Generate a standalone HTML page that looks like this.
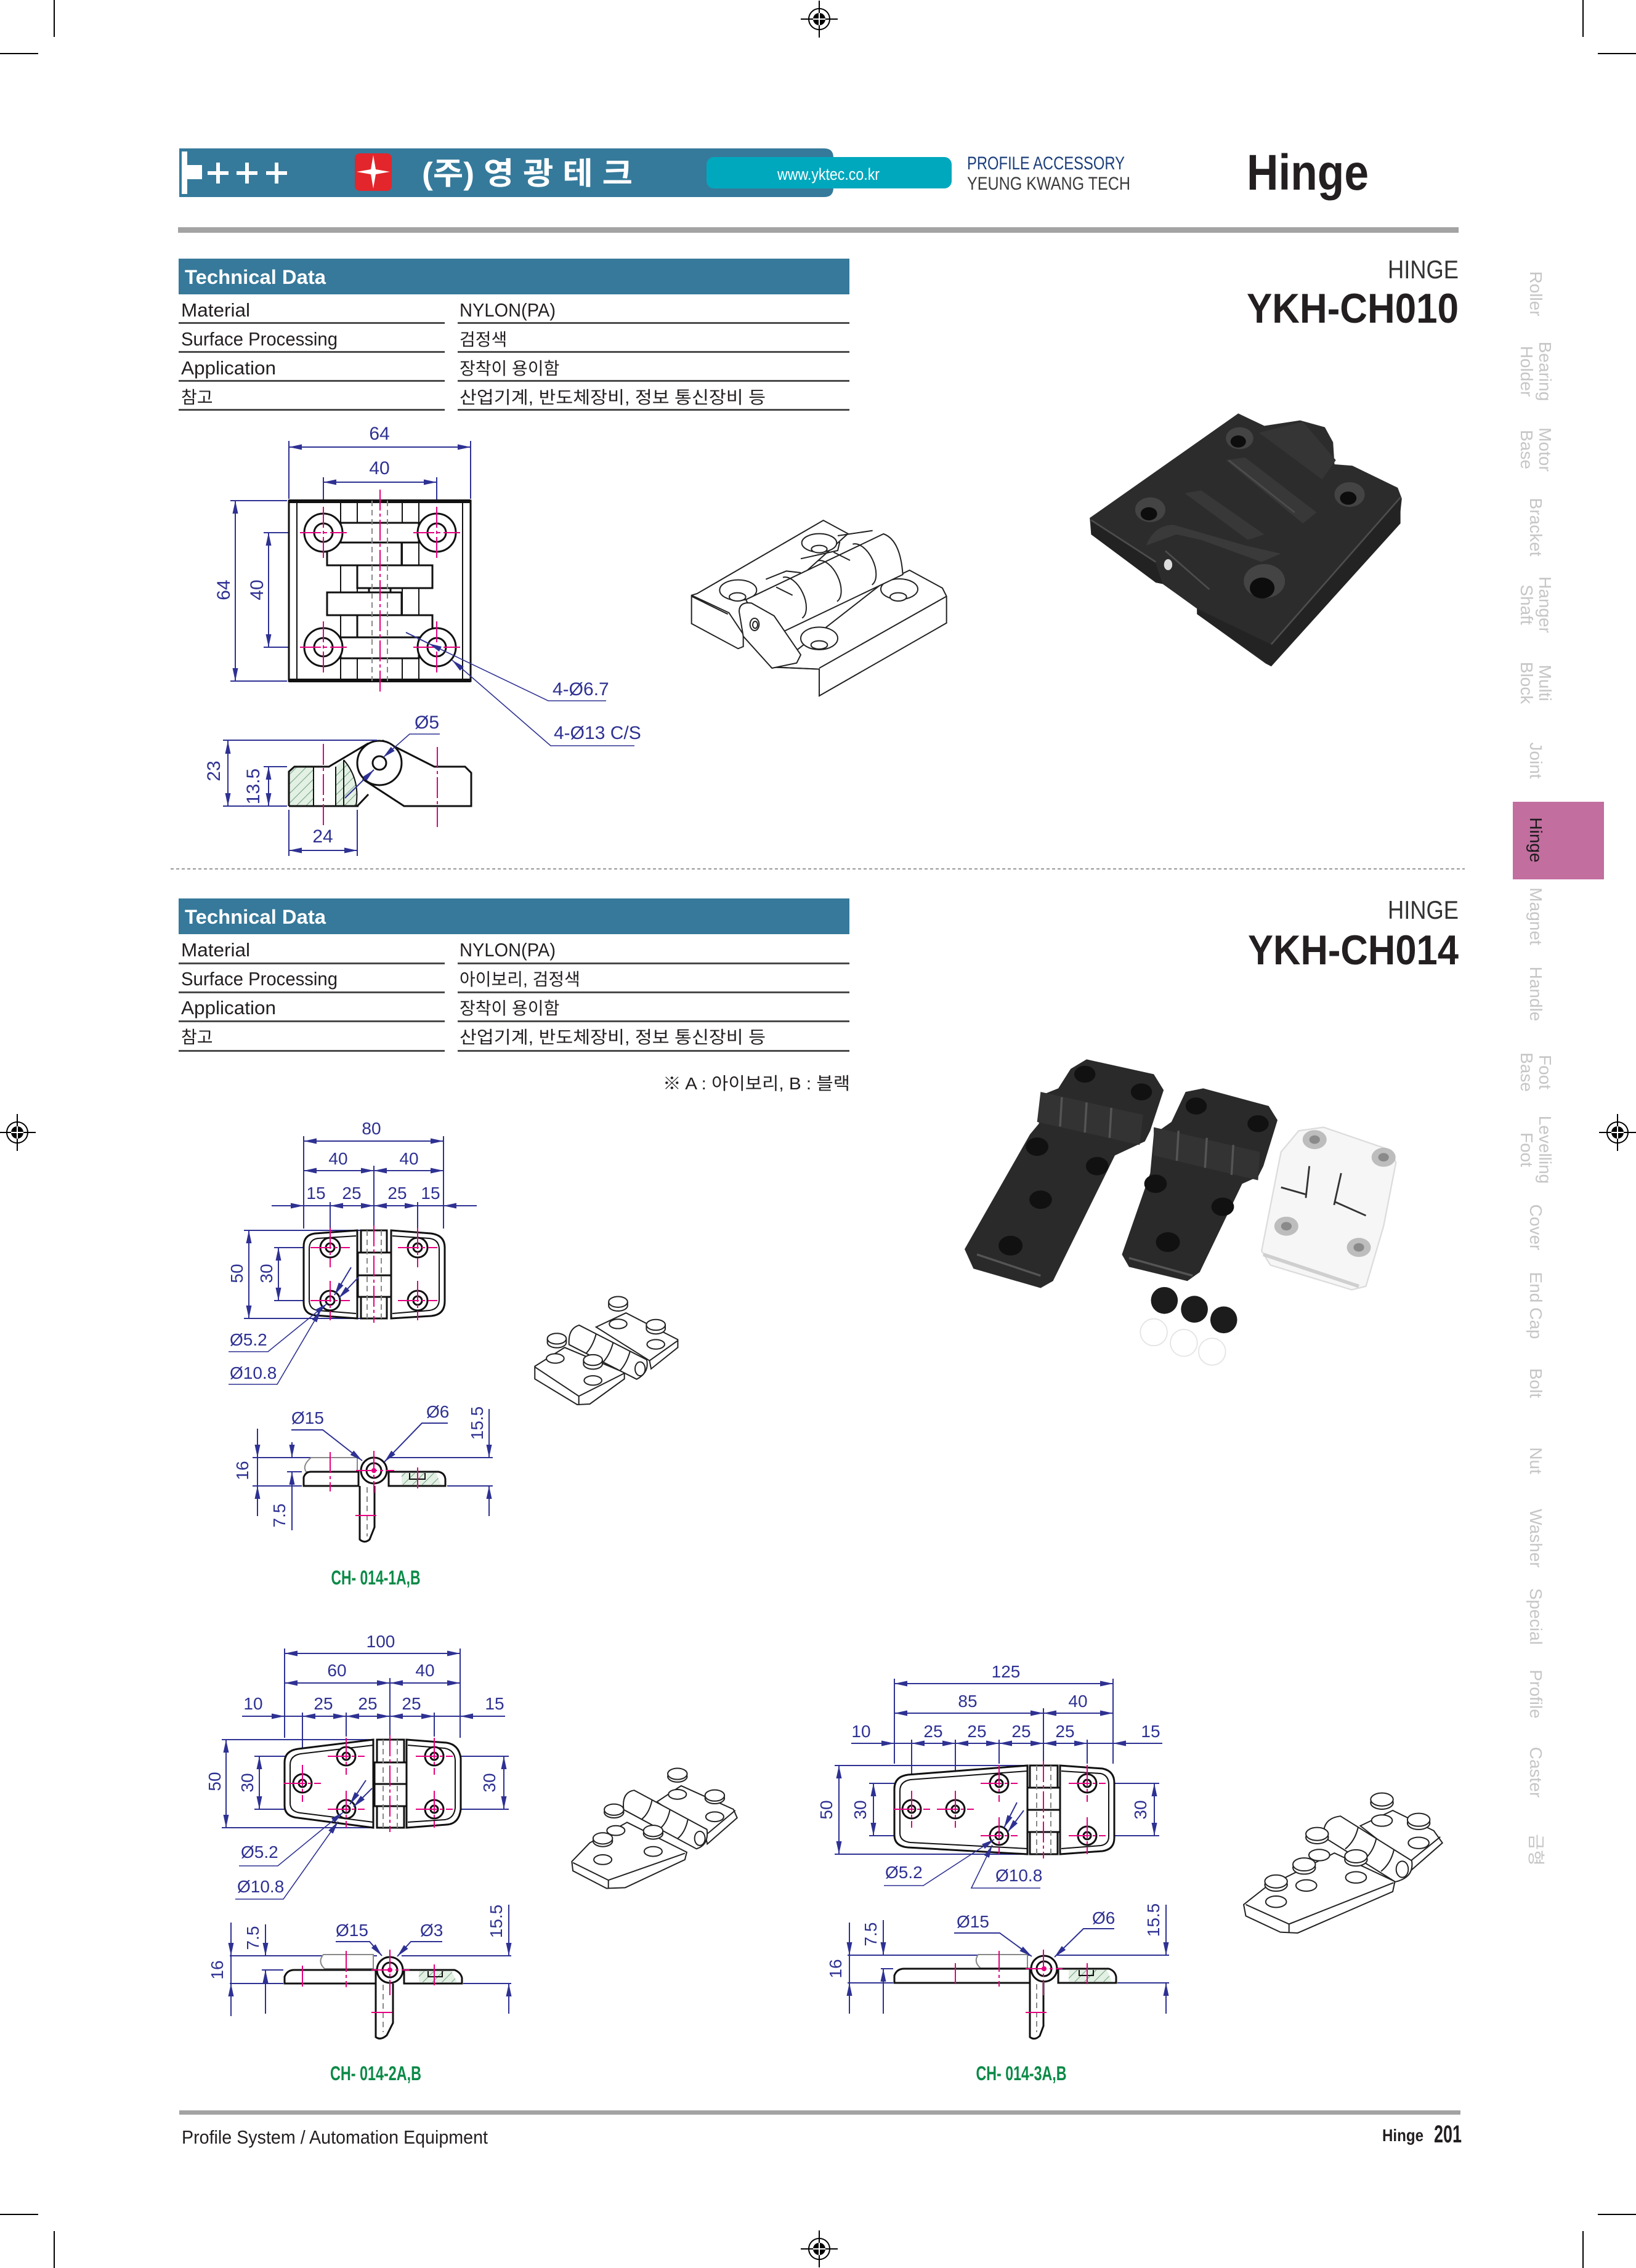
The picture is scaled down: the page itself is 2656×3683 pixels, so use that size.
<!DOCTYPE html>
<html><head><meta charset="utf-8"><title>Hinge</title>
<style>
html,body{margin:0;padding:0;background:#fff;width:2656px;height:3683px;overflow:hidden}
svg{display:block}
</style></head><body>
<svg xmlns="http://www.w3.org/2000/svg" width="2656" height="3683" viewBox="0 0 2656 3683">
<style>
text{font-family:"Liberation Sans","Noto Sans CJK KR",sans-serif}
.d{stroke:#2e3192;stroke-width:2;fill:none}
.de{stroke:#2e3192;stroke-width:2;fill:none;marker-end:url(#a)}
.db{stroke:#2e3192;stroke-width:2;fill:none;marker-start:url(#a);marker-end:url(#a)}
.ds{stroke:#2e3192;stroke-width:1.6;fill:none;marker-start:url(#a)}
.o{stroke:#111;stroke-width:3;fill:#fff}
.on{stroke:#111;stroke-width:3;fill:none}
.o2{stroke:#111;stroke-width:2;fill:none}
.g{stroke:#888;stroke-width:2;fill:#fff}
.hd{stroke:#888;stroke-width:2;fill:none;stroke-dasharray:9 6}
.c{stroke:#e4007f;stroke-width:2;fill:none;stroke-dasharray:34 5 5 5}
.t{fill:#2e3192;font-size:28px}
.t3{fill:#2e3192;font-size:30px}
.tab{fill:#c6c6c6;font-size:28px}
.iso{stroke:#222;stroke-width:2;fill:#fff;vector-effect:non-scaling-stroke}
.isn{stroke:#222;stroke-width:2;fill:none;vector-effect:non-scaling-stroke}
.lbl{fill:#0a8a47;font-size:32px;font-weight:bold}
.tx{fill:#231f20;font-size:31px}
.tk{fill:#231f20;font-size:28px}
</style>
<defs>
<marker id="a" markerUnits="userSpaceOnUse" markerWidth="22" markerHeight="10" refX="21" refY="5" orient="auto-start-reverse"><path d="M0,0.5 L21,5 L0,9.5 Z" fill="#2e3192"/></marker>
<pattern id="ht" patternUnits="userSpaceOnUse" width="11" height="11" patternTransform="rotate(45)"><rect width="11" height="11" fill="#e3f0e4"/><line x1="0" y1="0" x2="0" y2="11" stroke="#6f9f7a" stroke-width="2"/></pattern>
<g id="reg"><circle r="17" fill="none" stroke="#000" stroke-width="2"/><circle r="10" fill="#000"/><line x1="-30" y1="0" x2="30" y2="0" stroke="#000" stroke-width="2"/><line x1="0" y1="-30" x2="0" y2="30" stroke="#000" stroke-width="2"/><line x1="-10" y1="0" x2="10" y2="0" stroke="#fff" stroke-width="2"/><line x1="0" y1="-10" x2="0" y2="10" stroke="#fff" stroke-width="2"/></g>
</defs>

<!-- crop marks -->
<g stroke="#000" stroke-width="2">
<line x1="88" y1="0" x2="88" y2="60"/><line x1="0" y1="87" x2="62" y2="87"/>
<line x1="2570" y1="0" x2="2570" y2="60"/><line x1="2594" y1="87" x2="2656" y2="87"/>
<line x1="88" y1="3623" x2="88" y2="3683"/><line x1="0" y1="3596" x2="62" y2="3596"/>
<line x1="2570" y1="3623" x2="2570" y2="3683"/><line x1="2594" y1="3596" x2="2656" y2="3596"/>
</g>
<use href="#reg" x="1330" y="31"/>
<use href="#reg" x="1330" y="3652"/>
<use href="#reg" x="28" y="1839"/>
<use href="#reg" x="2626" y="1839"/>

<!-- header -->
<path d="M291,241 H1338 Q1353,241 1353,256 V305 Q1353,320 1338,320 H291 Z" fill="#357a9b"/>
<rect x="295" y="246" width="9" height="69" fill="#fff"/>
<rect x="304" y="268" width="24" height="23" fill="#fff"/>
<g stroke="#fff" stroke-width="6">
<line x1="337" y1="281" x2="371" y2="281"/><line x1="354" y1="264" x2="354" y2="298"/>
<line x1="384" y1="281" x2="418" y2="281"/><line x1="401" y1="264" x2="401" y2="298"/>
<line x1="432" y1="281" x2="466" y2="281"/><line x1="449" y1="264" x2="449" y2="298"/>
</g>
<rect x="576" y="249" width="60" height="61" rx="8" fill="#e3262b"/>
<path d="M606,252 L610,275 L633,279 L610,283 L606,306 L602,283 L579,279 L602,275 Z" fill="#fff"/>
<text x="685" y="299" font-size="50" font-weight="bold" fill="#fff" textLength="342" lengthAdjust="spacingAndGlyphs">(주) 영 광 테 크</text>
<rect x="1147" y="255" width="398" height="51" rx="12" fill="#00a8bd"/>
<text x="1262" y="292" font-size="27" fill="#fff" textLength="166" lengthAdjust="spacingAndGlyphs">www.yktec.co.kr</text>
<text x="1570" y="275" font-size="30" fill="#1c3f7c" textLength="256" lengthAdjust="spacingAndGlyphs">PROFILE ACCESSORY</text>
<text x="1570" y="308" font-size="30" fill="#3a3a3a" textLength="265" lengthAdjust="spacingAndGlyphs">YEUNG KWANG TECH</text>
<text x="2024" y="308" font-size="82" font-weight="bold" fill="#231f20" textLength="198" lengthAdjust="spacingAndGlyphs">Hinge</text>
<rect x="289" y="369" width="2079" height="9" fill="#a3a3a3"/>

<!-- right tabs -->
<rect x="2456" y="1302" width="148" height="126" fill="#c26e9f"/>
<g class="tab" text-anchor="middle">
<text transform="translate(2484,477) rotate(90)">Roller</text>
<text transform="translate(2499,603) rotate(90)">Bearing</text><text transform="translate(2469,603) rotate(90)">Holder</text>
<text transform="translate(2499,730) rotate(90)">Motor</text><text transform="translate(2469,730) rotate(90)">Base</text>
<text transform="translate(2484,856) rotate(90)">Bracket</text>
<text transform="translate(2499,982) rotate(90)">Hanger</text><text transform="translate(2469,982) rotate(90)">Shaft</text>
<text transform="translate(2499,1109) rotate(90)">Multi</text><text transform="translate(2469,1109) rotate(90)">Block</text>
<text transform="translate(2484,1235) rotate(90)">Joint</text>
<text transform="translate(2484,1364) rotate(90)" style="fill:#1a1a1a">Hinge</text>
<text transform="translate(2484,1488) rotate(90)">Magnet</text>
<text transform="translate(2484,1614) rotate(90)">Handle</text>
<text transform="translate(2499,1741) rotate(90)">Foot</text><text transform="translate(2469,1741) rotate(90)">Base</text>
<text transform="translate(2499,1867) rotate(90)">Levelling</text><text transform="translate(2469,1867) rotate(90)">Foot</text>
<text transform="translate(2484,1993) rotate(90)">Cover</text>
<text transform="translate(2484,2120) rotate(90)">End Cap</text>
<text transform="translate(2484,2246) rotate(90)">Bolt</text>
<text transform="translate(2484,2372) rotate(90)">Nut</text>
<text transform="translate(2484,2498) rotate(90)">Washer</text>
<text transform="translate(2484,2625) rotate(90)">Special</text>
<text transform="translate(2484,2751) rotate(90)">Profile</text>
<text transform="translate(2484,2878) rotate(90)">Caster</text>
<text transform="translate(2484,3004) rotate(90)">금형</text>
</g>

<!-- TABLE 1 -->
<rect x="290" y="420" width="1089" height="58" fill="#36799a"/>
<text x="300" y="461" font-size="32" font-weight="bold" fill="#fff" textLength="229" lengthAdjust="spacingAndGlyphs">Technical Data</text>
<g fill="#4a4a4a">
<rect x="290" y="523" width="432" height="3"/><rect x="743" y="523" width="636" height="3"/>
<rect x="290" y="570" width="432" height="3"/><rect x="743" y="570" width="636" height="3"/>
<rect x="290" y="617" width="432" height="3"/><rect x="743" y="617" width="636" height="3"/>
<rect x="290" y="664" width="432" height="3"/><rect x="743" y="664" width="636" height="3"/>
</g>
<text class="tx" x="294" y="514" textLength="112" lengthAdjust="spacingAndGlyphs">Material</text>
<text class="tx" x="294" y="561" textLength="254" lengthAdjust="spacingAndGlyphs">Surface Processing</text>
<text class="tx" x="294" y="608" textLength="154" lengthAdjust="spacingAndGlyphs">Application</text>
<text class="tk" x="294" y="655">참고</text>
<text class="tx" x="746" y="514" textLength="156" lengthAdjust="spacingAndGlyphs">NYLON(PA)</text>
<text class="tk" x="746" y="561">검정색</text>
<text class="tk" x="746" y="608">장착이 용이함</text>
<text class="tk" x="746" y="655" textLength="497" lengthAdjust="spacingAndGlyphs">산업기계, 반도체장비, 정보 통신장비 등</text>
<text x="2368" y="452" font-size="42" text-anchor="end" fill="#333" textLength="115" lengthAdjust="spacingAndGlyphs">HINGE</text>
<text x="2368" y="524" font-size="68" font-weight="bold" text-anchor="end" fill="#231f20" textLength="344" lengthAdjust="spacingAndGlyphs">YKH-CH010</text>

<!-- DRAWING 1 main view -->
<line class="db" x1="469" y1="726" x2="764" y2="726"/>
<line class="d" x1="469" y1="716" x2="469" y2="810"/><line class="d" x1="764" y1="716" x2="764" y2="810"/>
<text class="t3" x="616" y="714" text-anchor="middle">64</text>
<line class="db" x1="525" y1="783" x2="709" y2="783"/>
<line class="d" x1="525" y1="775" x2="525" y2="812"/><line class="d" x1="709" y1="775" x2="709" y2="812"/>
<text class="t3" x="616" y="770" text-anchor="middle">40</text>
<line class="db" x1="382" y1="813" x2="382" y2="1106"/>
<line class="d" x1="374" y1="813" x2="466" y2="813"/><line class="d" x1="374" y1="1106" x2="466" y2="1106"/>
<text class="t3" text-anchor="middle" transform="translate(373,958) rotate(-90)">64</text>
<line class="db" x1="436" y1="865" x2="436" y2="1051"/>
<line class="d" x1="428" y1="865" x2="505" y2="865"/><line class="d" x1="428" y1="1051" x2="505" y2="1051"/>
<text class="t3" text-anchor="middle" transform="translate(427,958) rotate(-90)">40</text>

<rect class="o" x="469" y="813" width="295" height="293"/>
<line x1="469" y1="814" x2="764" y2="814" stroke="#111" stroke-width="6"/>
<line x1="469" y1="1105" x2="764" y2="1105" stroke="#111" stroke-width="6"/>
<line class="o2" x1="482" y1="813" x2="482" y2="1106"/><line class="o2" x1="751" y1="813" x2="751" y2="1106"/>
<g class="o2"><line x1="553" y1="813" x2="553" y2="1106"/><line x1="580" y1="813" x2="580" y2="1106"/><line x1="653" y1="813" x2="653" y2="1106"/><line x1="680" y1="813" x2="680" y2="1106"/></g>
<rect class="o" x="553" y="849" width="127" height="32"/>
<rect class="o" x="531" y="881" width="121" height="37"/>
<rect class="o" x="580" y="918" width="122" height="37"/>
<rect class="o" x="599" y="955" width="35" height="7"/>
<rect class="o" x="531" y="962" width="121" height="37"/>
<rect class="o" x="580" y="999" width="122" height="36"/>
<rect class="o" x="553" y="1035" width="127" height="34"/>
<line class="hd" x1="604" y1="813" x2="604" y2="1106"/><line class="hd" x1="629" y1="813" x2="629" y2="1106"/>
<g>
<circle class="o" cx="525" cy="865" r="31"/><circle class="o" cx="525" cy="865" r="15"/>
<circle class="o" cx="709" cy="865" r="31"/><circle class="o" cx="709" cy="865" r="15"/>
<circle class="o" cx="525" cy="1051" r="31"/><circle class="o" cx="525" cy="1051" r="15"/>
<circle class="o" cx="709" cy="1051" r="31"/><circle class="o" cx="709" cy="1051" r="15"/>
</g>
<g class="c">
<line x1="617" y1="795" x2="617" y2="1125"/>
<line x1="487" y1="865" x2="563" y2="865"/><line x1="525" y1="823" x2="525" y2="907"/>
<line x1="671" y1="865" x2="747" y2="865"/><line x1="709" y1="823" x2="709" y2="907"/>
<line x1="487" y1="1051" x2="563" y2="1051"/><line x1="525" y1="1009" x2="525" y2="1093"/>
<line x1="671" y1="1051" x2="747" y2="1051"/><line x1="709" y1="1009" x2="709" y2="1093"/>
</g>
<polyline class="ds" points="696,1045 890,1138 984,1138"/>
<line class="d" x1="659" y1="1027" x2="696" y2="1045"/>
<polyline class="ds" points="734,1072 894,1211 1030,1211"/>
<text class="t3" x="897" y="1129">4-Ø6.7</text>
<text class="t3" x="899" y="1200">4-Ø13 C/S</text>

<!-- DRAWING 1 side view -->
<path d="M469,1309 V1253 L478,1245 H509 V1309 Z" fill="url(#ht)"/>
<path d="M545,1245 L558,1234 Q585,1265 578,1309 L545,1309 Z" fill="url(#ht)"/>
<path class="on" d="M469,1309 V1253 L478,1245 H534 L598,1207"/>
<line class="on" x1="469" y1="1309" x2="582" y2="1309"/>
<line class="o2" x1="509" y1="1245" x2="509" y2="1309"/><line class="o2" x1="545" y1="1245" x2="545" y2="1309"/>
<line class="o2" x1="558" y1="1234" x2="558" y2="1309"/>
<path class="o2" d="M558,1234 Q585,1265 578,1309"/>
<path class="o" d="M622,1203 L705,1245 H755 L765,1255 V1309 H656 L590,1266 Z"/>
<circle class="o" cx="616" cy="1239" r="36"/>
<circle class="o" cx="616" cy="1239" r="11"/>
<line class="on" x1="580" y1="1309" x2="598" y2="1290"/>
<g class="c"><line x1="525" y1="1208" x2="525" y2="1343"/><line x1="710" y1="1213" x2="710" y2="1343"/></g>
<polyline class="ds" points="622,1230 665,1192 714,1192"/>
<line class="de" x1="560" y1="1296" x2="607" y2="1250"/>
<text class="t3" x="673" y="1183">Ø5</text>
<line class="db" x1="370" y1="1203" x2="370" y2="1309"/>
<line class="d" x1="362" y1="1202" x2="612" y2="1202"/>
<line class="d" x1="362" y1="1309" x2="466" y2="1309"/>
<text class="t3" text-anchor="middle" transform="translate(357,1252) rotate(-90)">23</text>
<line class="db" x1="436" y1="1245" x2="436" y2="1309"/>
<line class="d" x1="428" y1="1245" x2="466" y2="1245"/>
<text class="t3" text-anchor="middle" transform="translate(421,1277) rotate(-90)">13.5</text>
<line class="db" x1="469" y1="1381" x2="580" y2="1381"/>
<line class="d" x1="469" y1="1315" x2="469" y2="1390"/><line class="d" x1="580" y1="1315" x2="580" y2="1390"/>
<text class="t3" x="524" y="1368" text-anchor="middle">24</text>

<!-- ISO 1 -->
<g transform="translate(1100,820) scale(0.33333)">
<path class="iso" d="M68,440 L95,432 L710,75 L830,140 L430,500 L320,630 L320,690 L295,700 L68,578 Z"/>
<path class="isn" d="M68,440 L250,525 L320,630 M68,445 L245,532"/>
<path class="iso" d="M460,790 L590,700 L1000,380 L1130,318 L1290,405 L1310,445 L1310,575 L690,930 L690,800 Z"/>
<path class="isn" d="M690,795 L1310,445 M690,800 L460,790"/>
<ellipse class="iso" cx="295" cy="415" rx="90" ry="50"/><ellipse class="iso" cx="292" cy="448" rx="40" ry="20"/>
<ellipse class="iso" cx="690" cy="185" rx="85" ry="45"/><ellipse class="iso" cx="690" cy="215" rx="38" ry="18"/>
<ellipse class="iso" cx="1080" cy="410" rx="90" ry="50"/><ellipse class="iso" cx="1075" cy="448" rx="40" ry="20"/>
<ellipse class="iso" cx="690" cy="650" rx="90" ry="55"/><ellipse class="iso" cx="690" cy="682" rx="40" ry="20"/>
<path class="iso" d="M333,461 L1003,141 Q1085,170 1097,339 L427,659 Z"/>
<path class="isn" d="M513,353 A60 110 -25 0 1 607,551 M683,272 A60 110 -25 0 1 777,470 M853,191 A60 110 -25 0 1 947,389"/>
<path class="isn" d="M430,362 L530,322 L600,330 M600,262 L780,222 L790,180 M780,150 L950,125 M480,400 L560,440 M760,230 L840,270"/>
<path class="iso" d="M300,520 Q300,470 360,478 L470,540 L600,730 L580,770 L460,795 L320,640 Z"/>
<ellipse class="iso" cx="375" cy="582" rx="22" ry="30"/><ellipse class="iso" cx="378" cy="584" rx="12" ry="17"/>
</g>

<!-- PHOTO 1 -->
<g transform="translate(1700,600) scale(0.4464)">
<polygon points="155,540 695,160 790,205 920,185 1010,210 1040,265 1045,345 1110,350 1275,430 1290,470 1280,560 815,1080 795,1070 545,890 545,870 420,780 395,775 160,600" fill="#2c2c2c"/>
<polygon points="160,545 395,705 420,780 395,775 160,600" fill="#222"/>
<polygon points="545,870 815,1000 1285,465 1285,560 815,1080 545,890" fill="#232323"/>
<path d="M360,640 Q390,565 460,565 L720,640 L850,670 L780,700 L560,620 L470,600 Z" fill="#3a3a3a"/>
<path d="M500,450 L560,440 L790,600 L730,620 Z" fill="#383838"/>
<path d="M650,330 L720,320 L980,520 L930,560 Z" fill="#383838"/>
<path d="M770,230 L930,190 L1050,330 L1000,400 Z" fill="#353535"/>
<path d="M430,660 L590,800 M160,548 L395,700 M815,1000 L1285,465 M660,330 L900,520" stroke="#4d4d4d" stroke-width="6" fill="none"/>
<ellipse cx="375" cy="510" rx="55" ry="45" fill="#444"/><ellipse cx="370" cy="525" rx="30" ry="24" fill="#0d0d0d"/>
<ellipse cx="700" cy="250" rx="50" ry="40" fill="#444"/><ellipse cx="695" cy="262" rx="28" ry="22" fill="#0d0d0d"/>
<ellipse cx="1100" cy="455" rx="55" ry="45" fill="#444"/><ellipse cx="1095" cy="468" rx="30" ry="24" fill="#0d0d0d"/>
<ellipse cx="790" cy="770" rx="75" ry="62" fill="#444"/><ellipse cx="782" cy="795" rx="45" ry="38" fill="#0d0d0d"/>
<ellipse cx="440" cy="710" rx="15" ry="20" fill="#ddd"/>
</g>

<!-- separator -->
<line x1="277" y1="1411" x2="2378" y2="1411" stroke="#9a9a9a" stroke-width="2" stroke-dasharray="5 4"/>

<!-- TABLE 2 -->
<rect x="290" y="1459" width="1089" height="58" fill="#36799a"/>
<text x="300" y="1500" font-size="32" font-weight="bold" fill="#fff" textLength="229" lengthAdjust="spacingAndGlyphs">Technical Data</text>
<g fill="#4a4a4a">
<rect x="290" y="1563" width="432" height="3"/><rect x="743" y="1563" width="636" height="3"/>
<rect x="290" y="1610" width="432" height="3"/><rect x="743" y="1610" width="636" height="3"/>
<rect x="290" y="1657" width="432" height="3"/><rect x="743" y="1657" width="636" height="3"/>
<rect x="290" y="1705" width="432" height="3"/><rect x="743" y="1705" width="636" height="3"/>
</g>
<text class="tx" x="294" y="1553" textLength="112" lengthAdjust="spacingAndGlyphs">Material</text>
<text class="tx" x="294" y="1600" textLength="254" lengthAdjust="spacingAndGlyphs">Surface Processing</text>
<text class="tx" x="294" y="1647" textLength="154" lengthAdjust="spacingAndGlyphs">Application</text>
<text class="tk" x="294" y="1694">참고</text>
<text class="tx" x="746" y="1553" textLength="156" lengthAdjust="spacingAndGlyphs">NYLON(PA)</text>
<text class="tk" x="746" y="1600">아이보리, 검정색</text>
<text class="tk" x="746" y="1647">장착이 용이함</text>
<text class="tk" x="746" y="1694" textLength="497" lengthAdjust="spacingAndGlyphs">산업기계, 반도체장비, 정보 통신장비 등</text>
<text class="tk" x="1380" y="1769" text-anchor="end" textLength="304" lengthAdjust="spacingAndGlyphs">※ A : 아이보리, B : 블랙</text>
<text x="2368" y="1492" font-size="42" text-anchor="end" fill="#333" textLength="115" lengthAdjust="spacingAndGlyphs">HINGE</text>
<text x="2368" y="1566" font-size="68" font-weight="bold" text-anchor="end" fill="#231f20" textLength="342" lengthAdjust="spacingAndGlyphs">YKH-CH014</text>

<!-- PHOTO 2 -->
<g transform="translate(1500,1400) scale(0.574)">
<polygon points="415,585 460,558 650,600 678,645 640,760 625,790 540,830 365,1185 330,1205 140,1150 115,1095 300,770 325,740 330,660 380,640" fill="#2a2a2a"/>
<polygon points="330,650 620,715 610,800 320,735" fill="#333"/>
<path d="M390,665 L385,748 M460,680 L455,765 M530,695 L525,780 M150,1110 L330,1170" stroke="#555" stroke-width="6" fill="none"/>
<g fill="#111"><ellipse cx="455" cy="600" rx="30" ry="24"/><ellipse cx="615" cy="650" rx="30" ry="24"/><ellipse cx="320" cy="805" rx="32" ry="26"/><ellipse cx="490" cy="860" rx="32" ry="26"/><ellipse cx="330" cy="955" rx="32" ry="26"/><ellipse cx="245" cy="1085" rx="34" ry="28"/></g>
<polygon points="740,650 790,640 975,690 1000,730 960,860 945,890 900,910 780,1160 745,1185 580,1145 560,1110 640,880 650,770 700,735" fill="#2a2a2a"/>
<polygon points="650,750 950,820 945,900 650,830" fill="#333"/>
<path d="M720,760 L715,845 M800,780 L795,865 M875,800 L870,885 M580,1120 L760,1170" stroke="#555" stroke-width="6" fill="none"/>
<g fill="#111"><ellipse cx="770" cy="690" rx="30" ry="24"/><ellipse cx="945" cy="740" rx="30" ry="24"/><ellipse cx="655" cy="910" rx="32" ry="26"/><ellipse cx="845" cy="975" rx="32" ry="26"/><ellipse cx="690" cy="1075" rx="34" ry="28"/></g>
<polygon points="1060,760 1130,750 1320,815 1335,850 1300,1030 1250,1200 1210,1210 980,1140 955,1100 1000,870 1010,820" fill="#f6f6f6" stroke="#dcdcdc" stroke-width="4"/>
<path d="M960,1110 L1230,1200" stroke="#cfcfcf" stroke-width="10"/>
<path d="M1010,920 L1080,940 M1090,860 L1080,950 M1160,960 L1250,1000 M1180,880 L1160,970" stroke="#333" stroke-width="5" fill="none"/>
<g><ellipse cx="1105" cy="785" rx="34" ry="27" fill="#bdbdbd"/><ellipse cx="1105" cy="785" rx="15" ry="12" fill="#8a8a8a"/>
<ellipse cx="1300" cy="835" rx="34" ry="27" fill="#bdbdbd"/><ellipse cx="1300" cy="835" rx="15" ry="12" fill="#8a8a8a"/>
<ellipse cx="1025" cy="1030" rx="34" ry="27" fill="#bdbdbd"/><ellipse cx="1025" cy="1030" rx="15" ry="12" fill="#8a8a8a"/>
<ellipse cx="1230" cy="1090" rx="34" ry="27" fill="#bdbdbd"/><ellipse cx="1230" cy="1090" rx="15" ry="12" fill="#8a8a8a"/></g>
<g fill="#fff" stroke="#e3e3e3" stroke-width="3"><circle cx="650" cy="1330" r="38"/><circle cx="735" cy="1360" r="38"/><circle cx="815" cy="1385" r="38"/></g>
<g fill="#1c1c1c"><circle cx="680" cy="1240" r="38"/><circle cx="765" cy="1265" r="38"/><circle cx="848" cy="1295" r="38"/></g>
</g>

<!-- CH-014-1 -->
<line class="db" x1="493" y1="1853" x2="720" y2="1853"/>
<line class="d" x1="493" y1="1845" x2="493" y2="1995"/><line class="d" x1="720" y1="1845" x2="720" y2="1995"/>
<text class="t" x="603" y="1842" text-anchor="middle">80</text>
<line class="db" x1="493" y1="1901" x2="607" y2="1901"/><line class="db" x1="607" y1="1901" x2="720" y2="1901"/>
<line class="d" x1="607" y1="1893" x2="607" y2="1990"/>
<text class="t" x="549" y="1891" text-anchor="middle">40</text><text class="t" x="664" y="1891" text-anchor="middle">40</text>
<line class="de" x1="441" y1="1958" x2="493" y2="1958"/><line class="d" x1="493" y1="1958" x2="536" y2="1958"/>
<line class="db" x1="536" y1="1958" x2="607" y2="1958"/><line class="db" x1="607" y1="1958" x2="678" y2="1958"/>
<line class="d" x1="678" y1="1958" x2="720" y2="1958"/><line class="de" x1="774" y1="1958" x2="720" y2="1958"/>
<text class="t" x="513" y="1947" text-anchor="middle">15</text><text class="t" x="571" y="1947" text-anchor="middle">25</text>
<text class="t" x="645" y="1947" text-anchor="middle">25</text><text class="t" x="699" y="1947" text-anchor="middle">15</text>
<line class="d" x1="536" y1="1952" x2="536" y2="1994"/><line class="d" x1="678" y1="1952" x2="678" y2="1994"/>
<line class="db" x1="404" y1="1998" x2="404" y2="2141"/>
<line class="d" x1="396" y1="1998" x2="585" y2="1998"/><line class="d" x1="396" y1="2141" x2="585" y2="2141"/>
<text class="t" text-anchor="middle" transform="translate(394,2068) rotate(-90)">50</text>
<line class="db" x1="452" y1="2026" x2="452" y2="2112"/>
<line class="d" x1="445" y1="2026" x2="520" y2="2026"/><line class="d" x1="445" y1="2112" x2="520" y2="2112"/>
<text class="t" text-anchor="middle" transform="translate(442,2068) rotate(-90)">30</text>
<path class="o" d="M580,1998 L512,2003 Q493,2005 493,2024 L493,2115 Q493,2134 512,2136 L580,2141 Z"/>
<path class="o2" d="M578,2007 L516,2011 Q502,2013 502,2028 L502,2111 Q502,2126 516,2128 L578,2133"/>
<path class="o" d="M635,1998 L700,2003 Q722,2006 722,2026 L722,2113 Q722,2135 700,2137 L635,2141 Z"/>
<path class="o2" d="M637,2007 L697,2011 Q713,2013 713,2029 L713,2110 Q713,2126 697,2128 L637,2133"/>
<rect class="o" x="586" y="1998" width="42" height="36"/><rect class="o" x="581" y="2034" width="54" height="37"/>
<rect class="o" x="581" y="2071" width="54" height="35"/><rect class="o" x="586" y="2106" width="42" height="35"/>
<line class="hd" x1="596" y1="1998" x2="596" y2="2141"/><line class="hd" x1="619" y1="1998" x2="619" y2="2141"/>
<g><circle class="o" cx="536" cy="2026" r="16"/><circle class="o" cx="536" cy="2026" r="7"/>
<circle class="o" cx="678" cy="2026" r="16"/><circle class="o" cx="678" cy="2026" r="7"/>
<circle class="o" cx="536" cy="2112" r="16"/><circle class="o" cx="536" cy="2112" r="7"/>
<circle class="o" cx="678" cy="2112" r="16"/><circle class="o" cx="678" cy="2112" r="7"/></g>
<g class="c"><line x1="607" y1="1990" x2="607" y2="2148"/>
<line x1="504" y1="2026" x2="568" y2="2026"/><line x1="536" y1="1994" x2="536" y2="2058"/>
<line x1="646" y1="2026" x2="710" y2="2026"/><line x1="678" y1="1994" x2="678" y2="2058"/>
<line x1="504" y1="2112" x2="568" y2="2112"/><line x1="536" y1="2080" x2="536" y2="2144"/>
<line x1="646" y1="2112" x2="710" y2="2112"/><line x1="678" y1="2080" x2="678" y2="2144"/></g>
<polyline class="ds" points="531,2117 435,2195 371,2195"/>
<polyline class="ds" points="521,2127 450,2248 371,2248"/>
<line class="de" x1="570" y1="2058" x2="543" y2="2103"/><line class="de" x1="582" y1="2074" x2="550" y2="2108"/>
<text class="t" x="373" y="2185">Ø5.2</text><text class="t" x="373" y="2239">Ø10.8</text>
<!-- side 1 -->
<line class="d" x1="410" y1="2367" x2="570" y2="2367"/><line class="d" x1="631" y1="2367" x2="800" y2="2367"/>
<line class="d" x1="410" y1="2413" x2="490" y2="2413"/><line class="d" x1="726" y1="2413" x2="800" y2="2413"/>
<line class="d" x1="466" y1="2390" x2="490" y2="2390"/>
<path class="g" d="M505,2367 L580,2367 L580,2390 L497,2390 Q490,2380 505,2367 Z"/>
<path class="o" d="M493,2413 L493,2399 Q496,2390 505,2390 L582,2390 L582,2413 Z"/>
<path class="o" d="M631,2390 L712,2390 Q722,2392 723,2402 L723,2413 L631,2413 Z"/>
<path d="M652,2392 L708,2392 L716,2411 L652,2411 Z" fill="url(#ht)"/>
<path class="o2" d="M665,2392 V2402 H690 V2392"/>
<path class="o" d="M584,2413 L584,2500 Q592,2507 600,2500 L608,2480 L608,2413"/>
<line class="hd" x1="596" y1="2415" x2="596" y2="2495"/>
<circle class="o" cx="607" cy="2388" r="21"/><circle class="o" cx="607" cy="2388" r="12"/><circle cx="607" cy="2388" r="4" fill="#e4007f"/>
<g class="c"><line x1="536" y1="2358" x2="536" y2="2422"/><line x1="678" y1="2383" x2="678" y2="2422"/>
<line x1="607" y1="2356" x2="607" y2="2424"/><line x1="578" y1="2388" x2="640" y2="2388"/><line x1="577" y1="2461" x2="615" y2="2461"/></g>
<line class="de" x1="418" y1="2320" x2="418" y2="2367"/><line class="de" x1="418" y1="2462" x2="418" y2="2413"/><line class="d" x1="418" y1="2367" x2="418" y2="2413"/>
<text class="t" text-anchor="middle" transform="translate(403,2388) rotate(-90)">16</text>
<line class="de" x1="474" y1="2342" x2="474" y2="2367"/><line class="de" x1="474" y1="2485" x2="474" y2="2390"/>
<text class="t" text-anchor="middle" transform="translate(463,2461) rotate(-90)">7.5</text>
<line class="de" x1="794" y1="2288" x2="794" y2="2367"/><line class="de" x1="794" y1="2462" x2="794" y2="2413"/>
<text class="t" text-anchor="middle" transform="translate(784,2311) rotate(-90)">15.5</text>
<polyline class="de" points="473,2322 524,2322 588,2372"/>
<polyline class="de" points="727,2311 685,2311 624,2374"/>
<text class="t" x="473" y="2312">Ø15</text><text class="t" x="692" y="2302">Ø6</text>
<text class="lbl" x="610" y="2573" text-anchor="middle" textLength="145" lengthAdjust="spacingAndGlyphs">CH- 014-1A,B</text>
<!-- iso CH014-1 -->
<g transform="translate(330,1780) scale(0.5102)">
<path class="iso" d="M1055,860 L1150,800 L1340,880 L1340,900 L1230,980 L1190,982 L1055,900 Z"/>
<path class="isn" d="M1055,862 L1195,955 L1340,882 M1195,955 L1195,982"/>
<path class="iso" d="M1250,735 L1345,690 L1510,775 L1510,800 L1425,868 L1420,842 Z"/>
<path class="isn" d="M1420,842 L1510,778"/>
<path class="iso" d="M1196,729 L1411,839 Q1420,880 1379,901 L1164,791 Q1160,740 1196,729 Z"/>
<path class="isn" d="M1250,757 Q1240,795 1218,819 M1304,785 Q1294,823 1272,847 M1358,812 Q1348,850 1326,874"/>
<ellipse class="iso" cx="1390" cy="868" rx="16" ry="22"/>
<g><ellipse class="iso" cx="1120" cy="835" rx="28" ry="15"/><ellipse class="iso" cx="1240" cy="905" rx="28" ry="15"/><ellipse class="iso" cx="1320" cy="725" rx="28" ry="15"/><ellipse class="iso" cx="1440" cy="790" rx="28" ry="15"/></g>
<g><path class="iso" d="M1095,772 L1095,784 A30 17 0 0 0 1155,784 L1155,772"/><ellipse class="iso" cx="1125" cy="772" rx="30" ry="17"/>
<path class="iso" d="M1290,655 L1290,667 A30 17 0 0 0 1350,667 L1350,655"/><ellipse class="iso" cx="1320" cy="655" rx="30" ry="17"/>
<path class="iso" d="M1410,728 L1410,740 A30 17 0 0 0 1470,740 L1470,728"/><ellipse class="iso" cx="1440" cy="728" rx="30" ry="17"/>
<path class="iso" d="M1210,840 L1210,852 A30 17 0 0 0 1270,852 L1270,840"/><ellipse class="iso" cx="1240" cy="840" rx="30" ry="17"/></g>
</g>

<!-- CH-014-2 -->
<line class="db" x1="462" y1="2685" x2="747" y2="2685"/>
<line class="d" x1="462" y1="2677" x2="462" y2="2822"/><line class="d" x1="747" y1="2677" x2="747" y2="2822"/>
<text class="t" x="618" y="2675" text-anchor="middle">100</text>
<line class="db" x1="462" y1="2733" x2="633" y2="2733"/><line class="db" x1="633" y1="2733" x2="747" y2="2733"/>
<line class="d" x1="633" y1="2725" x2="633" y2="2820"/>
<text class="t" x="547" y="2722" text-anchor="middle">60</text><text class="t" x="690" y="2722" text-anchor="middle">40</text>
<line class="de" x1="393" y1="2787" x2="462" y2="2787"/><line class="d" x1="462" y1="2787" x2="491" y2="2787"/>
<line class="db" x1="491" y1="2787" x2="562" y2="2787"/><line class="db" x1="562" y1="2787" x2="633" y2="2787"/>
<line class="db" x1="633" y1="2787" x2="705" y2="2787"/><line class="d" x1="705" y1="2787" x2="747" y2="2787"/>
<line class="de" x1="820" y1="2787" x2="747" y2="2787"/>
<text class="t" x="411" y="2776" text-anchor="middle">10</text><text class="t" x="525" y="2776" text-anchor="middle">25</text>
<text class="t" x="597" y="2776" text-anchor="middle">25</text><text class="t" x="668" y="2776" text-anchor="middle">25</text>
<text class="t" x="803" y="2776" text-anchor="middle">15</text>
<line class="d" x1="491" y1="2781" x2="491" y2="2862"/><line class="d" x1="562" y1="2781" x2="562" y2="2820"/><line class="d" x1="705" y1="2781" x2="705" y2="2820"/>
<line class="db" x1="367" y1="2825" x2="367" y2="2968"/>
<line class="d" x1="360" y1="2825" x2="606" y2="2825"/><line class="d" x1="360" y1="2968" x2="606" y2="2968"/>
<text class="t" text-anchor="middle" transform="translate(358,2893) rotate(-90)">50</text>
<line class="db" x1="421" y1="2852" x2="421" y2="2938"/>
<line class="d" x1="413" y1="2852" x2="545" y2="2852"/><line class="d" x1="413" y1="2938" x2="545" y2="2938"/>
<text class="t" text-anchor="middle" transform="translate(411,2895) rotate(-90)">30</text>
<line class="db" x1="818" y1="2852" x2="818" y2="2938"/>
<line class="d" x1="720" y1="2852" x2="826" y2="2852"/><line class="d" x1="720" y1="2938" x2="826" y2="2938"/>
<text class="t" text-anchor="middle" transform="translate(804,2895) rotate(-90)">30</text>
<path class="o" d="M606,2825 L484,2840 Q462,2843 462,2862 L462,2932 Q462,2950 484,2952 L606,2968 Z"/>
<path class="o2" d="M606,2834 L488,2848 Q471,2851 471,2866 L471,2928 Q471,2942 488,2944 L606,2959"/>
<path class="o" d="M660,2825 L725,2830 Q745,2833 748,2855 L748,2938 Q745,2962 725,2963 L660,2968 Z"/>
<path class="o2" d="M662,2834 L722,2839 Q738,2842 739,2858 L739,2936 Q737,2953 722,2955 L662,2959"/>
<rect class="o" x="612" y="2825" width="44" height="37"/><rect class="o" x="608" y="2862" width="52" height="35"/>
<rect class="o" x="608" y="2897" width="52" height="36"/><rect class="o" x="612" y="2933" width="44" height="35"/>
<line class="hd" x1="622" y1="2825" x2="622" y2="2968"/><line class="hd" x1="645" y1="2825" x2="645" y2="2968"/>
<g><circle class="o" cx="491" cy="2896" r="15"/><circle class="o" cx="491" cy="2896" r="6"/>
<circle class="o" cx="562" cy="2852" r="15"/><circle class="o" cx="562" cy="2852" r="6"/>
<circle class="o" cx="562" cy="2938" r="15"/><circle class="o" cx="562" cy="2938" r="6"/>
<circle class="o" cx="705" cy="2852" r="15"/><circle class="o" cx="705" cy="2852" r="6"/>
<circle class="o" cx="705" cy="2938" r="15"/><circle class="o" cx="705" cy="2938" r="6"/></g>
<g class="c"><line x1="633" y1="2818" x2="633" y2="2975"/>
<line x1="461" y1="2896" x2="521" y2="2896"/><line x1="491" y1="2866" x2="491" y2="2926"/>
<line x1="532" y1="2852" x2="592" y2="2852"/><line x1="562" y1="2822" x2="562" y2="2882"/>
<line x1="532" y1="2938" x2="592" y2="2938"/><line x1="562" y1="2908" x2="562" y2="2968"/>
<line x1="675" y1="2852" x2="735" y2="2852"/><line x1="705" y1="2822" x2="705" y2="2882"/>
<line x1="675" y1="2938" x2="735" y2="2938"/><line x1="705" y1="2908" x2="705" y2="2968"/></g>
<polyline class="ds" points="557,2943 451,3030 388,3030"/>
<polyline class="ds" points="549,2958 460,3084 382,3084"/>
<line class="de" x1="594" y1="2891" x2="568" y2="2930"/><line class="de" x1="604" y1="2904" x2="574" y2="2934"/>
<text class="t" x="391" y="3017">Ø5.2</text><text class="t" x="385" y="3073">Ø10.8</text>
<!-- side 2 -->
<line class="d" x1="373" y1="3176" x2="612" y2="3176"/><line class="d" x1="652" y1="3176" x2="830" y2="3176"/>
<line class="d" x1="373" y1="3221" x2="460" y2="3221"/><line class="d" x1="752" y1="3221" x2="830" y2="3221"/>
<line class="d" x1="425" y1="3199" x2="460" y2="3199"/>
<path class="g" d="M525,3174 L606,3174 L606,3197 L527,3197 Q515,3186 525,3174 Z"/>
<path class="o" d="M462,3221 L462,3210 Q466,3199 478,3199 L610,3199 L610,3221 Z"/>
<path class="o" d="M656,3199 L738,3199 Q748,3203 750,3212 L750,3221 L656,3221 Z"/>
<path d="M680,3201 L733,3201 L742,3219 L680,3219 Z" fill="url(#ht)"/>
<path class="o2" d="M695,3201 V3210 H718 V3201"/>
<path class="o" d="M610,3221 L610,3308 Q618,3314 628,3305 L638,3285 L638,3221"/>
<line class="hd" x1="622" y1="3223" x2="622" y2="3300"/>
<circle class="o" cx="633" cy="3199" r="21"/><circle class="o" cx="633" cy="3199" r="12"/><circle cx="633" cy="3199" r="4" fill="#e4007f"/>
<g class="c"><line x1="491" y1="3192" x2="491" y2="3227"/><line x1="562" y1="3168" x2="562" y2="3227"/>
<line x1="633" y1="3166" x2="633" y2="3240"/><line x1="705" y1="3190" x2="705" y2="3227"/>
<line x1="603" y1="3199" x2="665" y2="3199"/><line x1="603" y1="3268" x2="641" y2="3268"/></g>
<line class="de" x1="375" y1="3122" x2="375" y2="3176"/><line class="de" x1="375" y1="3274" x2="375" y2="3221"/><line class="d" x1="375" y1="3176" x2="375" y2="3221"/>
<text class="t" text-anchor="middle" transform="translate(362,3199) rotate(-90)">16</text>
<line class="de" x1="431" y1="3125" x2="431" y2="3176"/><line class="de" x1="431" y1="3270" x2="431" y2="3199"/>
<text class="t" text-anchor="middle" transform="translate(420,3147) rotate(-90)">7.5</text>
<line class="de" x1="826" y1="3093" x2="826" y2="3176"/><line class="de" x1="826" y1="3270" x2="826" y2="3221"/>
<text class="t" text-anchor="middle" transform="translate(815,3120) rotate(-90)">15.5</text>
<polyline class="de" points="545,3153 600,3153 620,3176"/>
<polyline class="de" points="718,3153 667,3153 645,3177"/>
<text class="t" x="545" y="3144">Ø15</text><text class="t" x="682" y="3144">Ø3</text>
<text class="lbl" x="610" y="3378" text-anchor="middle" textLength="148" lengthAdjust="spacingAndGlyphs">CH- 014-2A,B</text>
<!-- iso CH014-2 -->
<g transform="translate(300,2620) scale(0.6059)">
<path class="iso" d="M1037,665 L1085,615 L1185,560 L1345,640 L1340,660 L1180,735 L1130,737 L1040,690 Z"/>
<path class="isn" d="M1040,668 L1135,715 L1340,643 M1135,715 L1135,737"/>
<path class="iso" d="M1265,505 L1330,462 L1470,525 L1480,548 L1400,618 L1395,595 Z"/>
<path class="isn" d="M1395,595 L1475,528"/>
<path class="iso" d="M1204,474 L1399,579 Q1405,620 1371,631 L1176,526 Q1170,480 1204,474 Z"/>
<path class="isn" d="M1252,500 Q1245,535 1224,552 M1300,526 Q1293,561 1272,578 M1348,552 Q1341,587 1320,604"/>
<ellipse class="iso" cx="1380" cy="603" rx="14" ry="19"/>
<g><ellipse class="iso" cx="1155" cy="582" rx="24" ry="13"/><ellipse class="iso" cx="1320" cy="485" rx="24" ry="13"/><ellipse class="iso" cx="1420" cy="545" rx="24" ry="13"/><ellipse class="iso" cx="1255" cy="638" rx="24" ry="13"/><ellipse class="iso" cx="1120" cy="660" rx="24" ry="13"/></g>
<g><ellipse class="iso" cx="1150" cy="533" rx="26" ry="15"/><ellipse class="iso" cx="1150" cy="526" rx="26" ry="15"/>
<ellipse class="iso" cx="1320" cy="437" rx="26" ry="15"/><ellipse class="iso" cx="1320" cy="430" rx="26" ry="15"/>
<ellipse class="iso" cx="1420" cy="495" rx="26" ry="15"/><ellipse class="iso" cx="1420" cy="488" rx="26" ry="15"/>
<ellipse class="iso" cx="1255" cy="590" rx="26" ry="15"/><ellipse class="iso" cx="1255" cy="583" rx="26" ry="15"/>
<ellipse class="iso" cx="1120" cy="610" rx="26" ry="15"/><ellipse class="iso" cx="1120" cy="603" rx="26" ry="15"/></g>
</g>

<!-- CH-014-3 -->
<line class="db" x1="1452" y1="2734" x2="1807" y2="2734"/>
<line class="d" x1="1452" y1="2726" x2="1452" y2="2864"/><line class="d" x1="1807" y1="2726" x2="1807" y2="2864"/>
<text class="t" x="1633" y="2724" text-anchor="middle">125</text>
<line class="db" x1="1452" y1="2782" x2="1694" y2="2782"/><line class="db" x1="1694" y1="2782" x2="1807" y2="2782"/>
<line class="d" x1="1694" y1="2774" x2="1694" y2="2862"/>
<text class="t" x="1571" y="2772" text-anchor="middle">85</text><text class="t" x="1750" y="2772" text-anchor="middle">40</text>
<line class="de" x1="1382" y1="2831" x2="1452" y2="2831"/><line class="d" x1="1452" y1="2831" x2="1480" y2="2831"/>
<line class="db" x1="1480" y1="2831" x2="1551" y2="2831"/><line class="db" x1="1551" y1="2831" x2="1622" y2="2831"/>
<line class="db" x1="1622" y1="2831" x2="1694" y2="2831"/><line class="db" x1="1694" y1="2831" x2="1765" y2="2831"/>
<line class="d" x1="1765" y1="2831" x2="1807" y2="2831"/><line class="de" x1="1887" y1="2831" x2="1807" y2="2831"/>
<text class="t" x="1398" y="2821" text-anchor="middle">10</text><text class="t" x="1515" y="2821" text-anchor="middle">25</text>
<text class="t" x="1586" y="2821" text-anchor="middle">25</text><text class="t" x="1658" y="2821" text-anchor="middle">25</text>
<text class="t" x="1729" y="2821" text-anchor="middle">25</text><text class="t" x="1868" y="2821" text-anchor="middle">15</text>
<line class="d" x1="1480" y1="2825" x2="1480" y2="2905"/><line class="d" x1="1551" y1="2825" x2="1551" y2="2905"/>
<line class="d" x1="1622" y1="2825" x2="1622" y2="2864"/><line class="d" x1="1765" y1="2825" x2="1765" y2="2864"/>
<line class="db" x1="1362" y1="2867" x2="1362" y2="3011"/>
<line class="d" x1="1355" y1="2867" x2="1668" y2="2867"/><line class="d" x1="1355" y1="3011" x2="1668" y2="3011"/>
<text class="t" text-anchor="middle" transform="translate(1351,2939) rotate(-90)">50</text>
<line class="db" x1="1418" y1="2896" x2="1418" y2="2981"/>
<line class="d" x1="1411" y1="2896" x2="1605" y2="2896"/><line class="d" x1="1411" y1="2981" x2="1605" y2="2981"/>
<text class="t" text-anchor="middle" transform="translate(1406,2939) rotate(-90)">30</text>
<line class="db" x1="1874" y1="2896" x2="1874" y2="2981"/>
<line class="d" x1="1780" y1="2896" x2="1882" y2="2896"/><line class="d" x1="1780" y1="2981" x2="1882" y2="2981"/>
<text class="t" text-anchor="middle" transform="translate(1861,2939) rotate(-90)">30</text>
<path class="o" d="M1668,2867 L1474,2882 Q1452,2885 1452,2905 L1452,2980 Q1452,2998 1474,3000 L1668,3011 Z"/>
<path class="o2" d="M1668,2876 L1478,2890 Q1461,2893 1461,2908 L1461,2977 Q1461,2990 1478,2992 L1668,3002"/>
<path class="o" d="M1721,2867 L1790,2872 Q1809,2876 1809,2895 L1809,2985 Q1809,3003 1790,3006 L1721,3011 Z"/>
<path class="o2" d="M1723,2876 L1787,2880 Q1800,2883 1800,2898 L1800,2982 Q1800,2995 1787,2997 L1723,3002"/>
<rect class="o" x="1672" y="2867" width="45" height="36"/><rect class="o" x="1668" y="2903" width="53" height="36"/>
<rect class="o" x="1668" y="2939" width="53" height="36"/><rect class="o" x="1672" y="2975" width="45" height="36"/>
<line class="hd" x1="1683" y1="2867" x2="1683" y2="3011"/><line class="hd" x1="1706" y1="2867" x2="1706" y2="3011"/>
<g><circle class="o" cx="1480" cy="2938" r="15"/><circle class="o" cx="1480" cy="2938" r="6"/>
<circle class="o" cx="1551" cy="2938" r="15"/><circle class="o" cx="1551" cy="2938" r="6"/>
<circle class="o" cx="1622" cy="2896" r="15"/><circle class="o" cx="1622" cy="2896" r="6"/>
<circle class="o" cx="1622" cy="2981" r="15"/><circle class="o" cx="1622" cy="2981" r="6"/>
<circle class="o" cx="1765" cy="2896" r="15"/><circle class="o" cx="1765" cy="2896" r="6"/>
<circle class="o" cx="1765" cy="2981" r="15"/><circle class="o" cx="1765" cy="2981" r="6"/></g>
<g class="c"><line x1="1694" y1="2860" x2="1694" y2="3018"/>
<line x1="1450" y1="2938" x2="1510" y2="2938"/><line x1="1480" y1="2908" x2="1480" y2="2968"/>
<line x1="1521" y1="2938" x2="1581" y2="2938"/><line x1="1551" y1="2908" x2="1551" y2="2968"/>
<line x1="1592" y1="2896" x2="1652" y2="2896"/><line x1="1622" y1="2866" x2="1622" y2="2926"/>
<line x1="1592" y1="2981" x2="1652" y2="2981"/><line x1="1622" y1="2951" x2="1622" y2="3011"/>
<line x1="1735" y1="2896" x2="1795" y2="2896"/><line x1="1765" y1="2866" x2="1765" y2="2926"/>
<line x1="1735" y1="2981" x2="1795" y2="2981"/><line x1="1765" y1="2951" x2="1765" y2="3011"/></g>
<polyline class="ds" points="1614,2987 1499,3062 1435,3062"/>
<polyline class="ds" points="1611,2996 1577,3066 1689,3066"/>
<line class="de" x1="1651" y1="2927" x2="1630" y2="2968"/><line class="de" x1="1662" y1="2940" x2="1636" y2="2975"/>
<text class="t" x="1437" y="3050">Ø5.2</text><text class="t" x="1616" y="3055">Ø10.8</text>
<!-- side 3 -->
<line class="d" x1="1376" y1="3175" x2="1672" y2="3175"/><line class="d" x1="1716" y1="3175" x2="1898" y2="3175"/>
<line class="d" x1="1376" y1="3220" x2="1450" y2="3220"/><line class="d" x1="1814" y1="3220" x2="1898" y2="3220"/>
<line class="d" x1="1430" y1="3197" x2="1450" y2="3197"/>
<path class="g" d="M1588,3174 L1668,3174 L1668,3196 L1592,3196 Q1580,3186 1588,3174 Z"/>
<path class="o" d="M1452,3220 L1452,3208 Q1456,3197 1468,3197 L1672,3197 L1672,3220 Z"/>
<path class="o" d="M1718,3197 L1800,3197 Q1810,3200 1812,3210 L1812,3220 L1718,3220 Z"/>
<path d="M1735,3199 L1797,3199 L1805,3218 L1735,3218 Z" fill="url(#ht)"/>
<path class="o2" d="M1752,3199 V3208 H1775 V3199"/>
<path class="o" d="M1672,3220 L1672,3308 Q1680,3314 1688,3306 L1694,3290 L1694,3220"/>
<line class="hd" x1="1683" y1="3222" x2="1683" y2="3300"/>
<circle class="o" cx="1695" cy="3197" r="21"/><circle class="o" cx="1695" cy="3197" r="12"/><circle cx="1695" cy="3197" r="4" fill="#e4007f"/>
<g class="c"><line x1="1551" y1="3188" x2="1551" y2="3226"/><line x1="1622" y1="3168" x2="1622" y2="3226"/>
<line x1="1694" y1="3166" x2="1694" y2="3240"/><line x1="1765" y1="3188" x2="1765" y2="3226"/>
<line x1="1665" y1="3197" x2="1725" y2="3197"/><line x1="1665" y1="3268" x2="1700" y2="3268"/></g>
<line class="de" x1="1379" y1="3122" x2="1379" y2="3175"/><line class="de" x1="1379" y1="3270" x2="1379" y2="3220"/><line class="d" x1="1379" y1="3175" x2="1379" y2="3220"/>
<text class="t" text-anchor="middle" transform="translate(1366,3197) rotate(-90)">16</text>
<line class="de" x1="1434" y1="3118" x2="1434" y2="3175"/><line class="de" x1="1434" y1="3270" x2="1434" y2="3197"/>
<text class="t" text-anchor="middle" transform="translate(1423,3141) rotate(-90)">7.5</text>
<line class="de" x1="1893" y1="3093" x2="1893" y2="3175"/><line class="de" x1="1893" y1="3270" x2="1893" y2="3220"/>
<text class="t" text-anchor="middle" transform="translate(1882,3118) rotate(-90)">15.5</text>
<polyline class="de" points="1549,3139 1623,3139 1675,3177"/>
<polyline class="de" points="1809,3132 1759,3132 1712,3178"/>
<text class="t" x="1553" y="3130">Ø15</text><text class="t" x="1773" y="3124">Ø6</text>
<text class="lbl" x="1658" y="3378" text-anchor="middle" textLength="147" lengthAdjust="spacingAndGlyphs">CH- 014-3A,B</text>
<!-- iso CH014-3 -->
<g transform="translate(1300,2650) scale(0.7015,0.659)">
<path class="iso" d="M1025,672 L1075,630 L1235,545 L1375,615 L1370,640 L1150,742 L1110,740 L1030,700 Z"/>
<path class="isn" d="M1030,672 L1130,720 L1372,618 M1130,720 L1130,742"/>
<path class="iso" d="M1295,478 L1370,440 L1465,490 L1485,520 L1410,590 L1405,570 Z"/>
<path class="isn" d="M1405,570 L1480,505"/>
<path class="iso" d="M1249,454 L1414,564 Q1420,605 1376,616 L1211,506 Q1205,460 1249,454 Z"/>
<path class="isn" d="M1290,481 Q1283,515 1260,535 M1332,509 Q1325,543 1302,563 M1373,536 Q1366,570 1343,590"/>
<ellipse class="iso" cx="1392" cy="585" rx="14" ry="20"/>
<g><ellipse class="iso" cx="1200" cy="550" rx="24" ry="14"/><ellipse class="iso" cx="1345" cy="465" rx="24" ry="14"/><ellipse class="iso" cx="1430" cy="520" rx="24" ry="14"/><ellipse class="iso" cx="1285" cy="605" rx="24" ry="14"/><ellipse class="iso" cx="1170" cy="625" rx="24" ry="14"/><ellipse class="iso" cx="1100" cy="665" rx="24" ry="14"/></g>
<g><ellipse class="iso" cx="1195" cy="506" rx="26" ry="16"/><ellipse class="iso" cx="1195" cy="498" rx="26" ry="16"/>
<ellipse class="iso" cx="1345" cy="421" rx="26" ry="16"/><ellipse class="iso" cx="1345" cy="413" rx="26" ry="16"/>
<ellipse class="iso" cx="1430" cy="471" rx="26" ry="16"/><ellipse class="iso" cx="1430" cy="463" rx="26" ry="16"/>
<ellipse class="iso" cx="1285" cy="561" rx="26" ry="16"/><ellipse class="iso" cx="1285" cy="553" rx="26" ry="16"/>
<ellipse class="iso" cx="1165" cy="581" rx="26" ry="16"/><ellipse class="iso" cx="1165" cy="573" rx="26" ry="16"/>
<ellipse class="iso" cx="1100" cy="623" rx="26" ry="16"/><ellipse class="iso" cx="1100" cy="615" rx="26" ry="16"/></g>
</g>

<!-- footer -->
<rect x="291" y="3427" width="2080" height="7" fill="#a3a3a3"/>
<text x="295" y="3481" font-size="31" fill="#231f20" textLength="497" lengthAdjust="spacingAndGlyphs">Profile System / Automation Equipment</text>
<text x="2244" y="3477" font-size="28" font-weight="bold" fill="#231f20" textLength="67" lengthAdjust="spacingAndGlyphs">Hinge</text>
<text x="2373" y="3479" font-size="40" font-weight="bold" fill="#231f20" text-anchor="end" textLength="45" lengthAdjust="spacingAndGlyphs">201</text>
</svg>
</body></html>
